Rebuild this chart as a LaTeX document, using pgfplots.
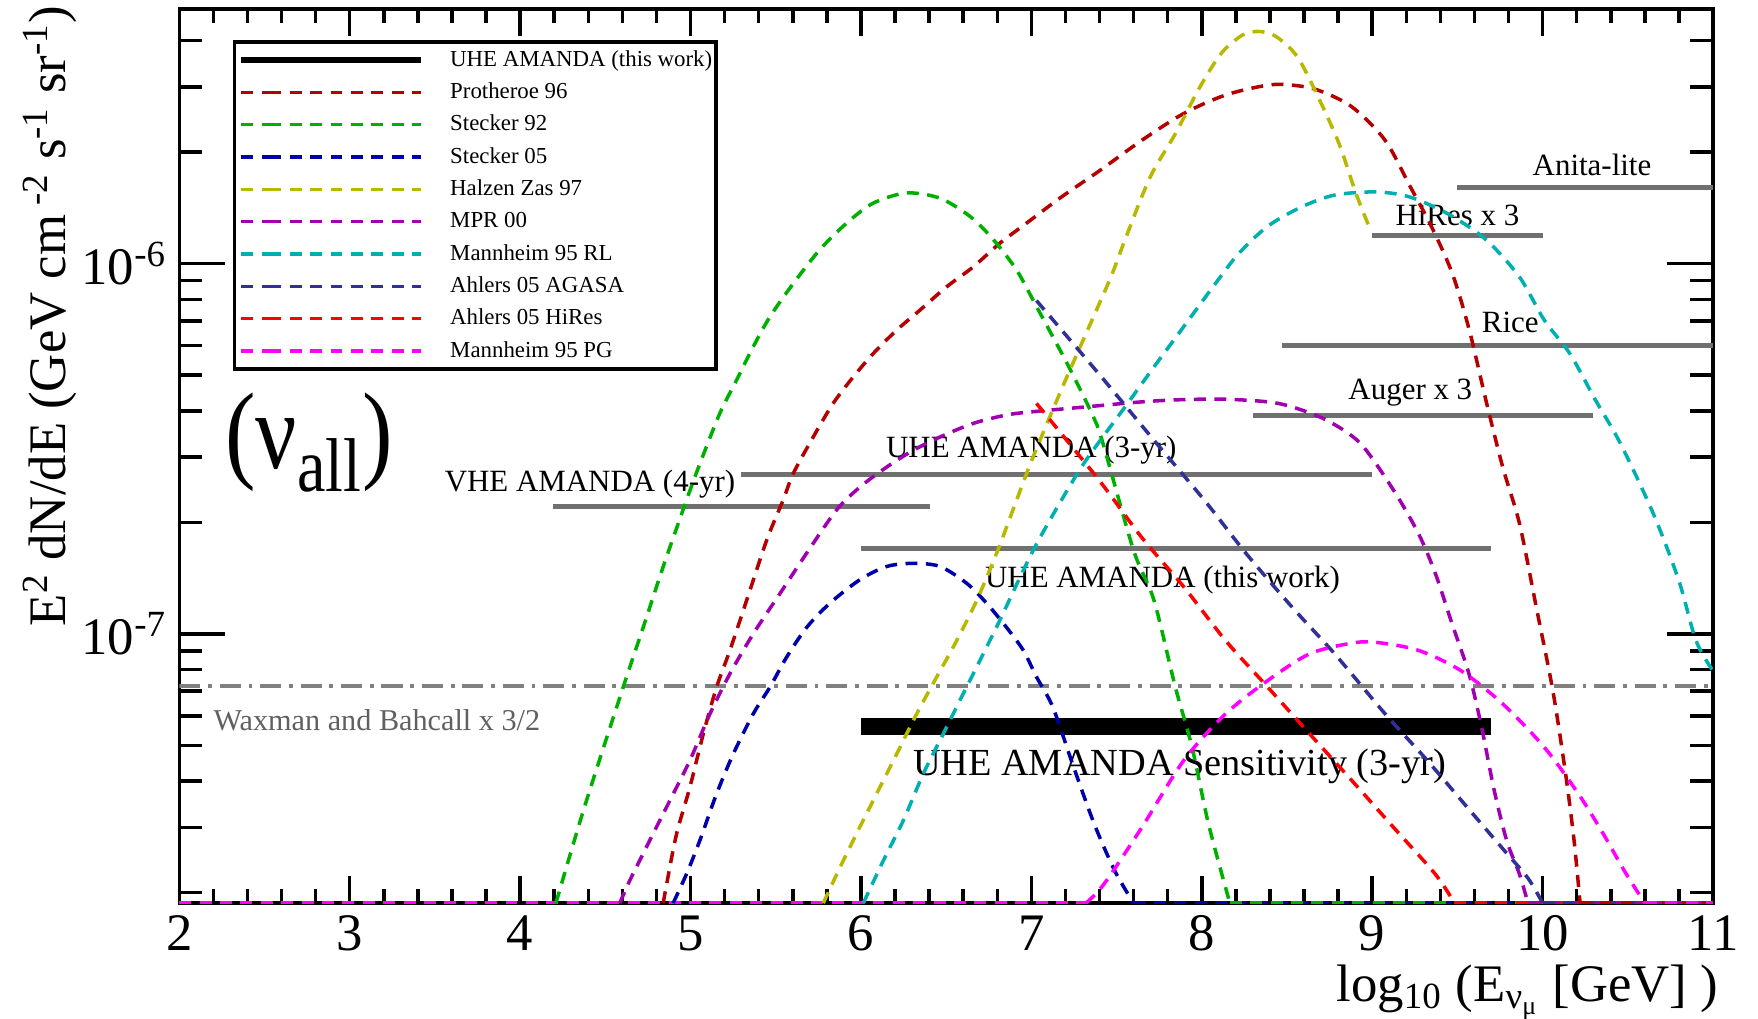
\documentclass[border=0pt]{standalone}
\usepackage{pgfplots}
\pgfplotsset{compat=1.18}
\usepackage{graphicx}
\usepackage{fontspec}
\setmainfont{Liberation Serif}
\definecolor{cProt}{RGB}{180,0,0}
\definecolor{cStA}{RGB}{0,176,0}
\definecolor{cStB}{RGB}{0,0,170}
\definecolor{cHZ}{RGB}{184,184,0}
\definecolor{cMPR}{RGB}{160,0,176}
\definecolor{cMRL}{RGB}{0,176,176}
\definecolor{cAG}{RGB}{48,48,150}
\definecolor{cAH}{RGB}{255,0,0}
\definecolor{cMPG}{RGB}{255,0,255}
\definecolor{cBar}{RGB}{112,112,112}
\definecolor{cWB}{RGB}{128,128,128}
\definecolor{cWBt}{RGB}{96,96,96}
\tikzset{cvb/.style={dash pattern=on 3.4pt off 2.4pt, line width=1pt},
  cv/.style={cvb, smooth, tension=0.5},
  gbar/.style={cBar, line width=1.45pt},
  lab/.style={font=\fontsize{8.8}{10}\selectfont, anchor=base, inner sep=0pt}}
\begin{document}
\begin{tikzpicture}
\useasboundingbox (-51pt,-32.7pt) rectangle (449.1pt,256.9pt);
% axis for the x ticks and x label
\begin{axis}[
  scale only axis, width=436.3pt, height=254.3pt,
  xmin=2, xmax=11, ymin=0, ymax=1,
  xtick={2,3,4,5,6,7,8,9,10,11},
  xticklabels={2,3,4,5,6,7,8,9,10,11},
  minor x tick num=4,
  ytick=\empty,
  tick align=inside,
  major tick length=7.7pt, minor tick length=4pt,
  tick style={black, line width=1pt},
  axis line style={line width=1pt},
  xticklabel style={font=\fontsize{15}{15}\selectfont},
  xlabel={log\textsubscript{10} (E\textsubscript{ν\textsubscript{μ}} [GeV] )},
  xlabel style={at={(axis description cs:0.879,-0.1)}, anchor=center, font=\fontsize{15}{16}\selectfont},
]
\addplot[draw=none] coordinates {(2,0.5)};
\end{axis}
% main axis
\begin{axis}[
  scale only axis, width=436.3pt, height=254.3pt,
  xmin=2, xmax=11, ymode=log, ymin=1.875e-8, ymax=4.86e-6,
  xtick=\empty,
  ytick={1e-7,1e-6},
  yticklabels={10\textsuperscript{-7},10\textsuperscript{-6}},
  minor ytick={2e-8,3e-8,4e-8,5e-8,6e-8,7e-8,8e-8,9e-8,2e-7,3e-7,4e-7,5e-7,6e-7,7e-7,8e-7,9e-7,2e-6,3e-6,4e-6},
  tick align=inside,
  major tick length=13pt, minor tick length=6.5pt,
  tick style={black, line width=1pt},
  axis line style={line width=1pt},
  yticklabel style={font=\fontsize{15}{15}\selectfont},
  ylabel={E\textsuperscript{2} dN/dE (GeV cm\textsuperscript{ -2} s\textsuperscript{-1} sr\textsuperscript{-1})},
  ylabel style={at={(axis description cs:-0.0844,0.657)}, anchor=center, font=\fontsize{15}{16}\selectfont},
  legend entries={UHE AMANDA (this work),Protheroe 96,Stecker 92,Stecker 05,Halzen Zas 97,MPR 00,Mannheim 95 RL,Ahlers 05 AGASA,Ahlers 05 HiRes,Mannheim 95 PG},
  legend image code/.code={\path (0pt,0pt) -- (8pt,0pt); \draw[#1] (8pt,0pt) -- (51pt,0pt);},
  legend style={at={(axis description cs:0.035,0.965)}, anchor=north west,
    draw=black, line width=1pt, fill=white,
    font=\fontsize{6.5}{7}\selectfont,
    nodes={inner sep=0pt, text height=5pt, text depth=1.5pt},
    row sep=2.7pt, column sep=7.6pt,
    inner xsep=1pt, inner ysep=1.8pt, cells={anchor=west}},
]
\addlegendimage{black, line width=1.7pt}
% Waxman Bahcall
\addplot[forget plot, cWB, line width=1.3pt, dash pattern=on 6pt off 2.2pt on 1.1pt off 2.2pt] coordinates {(2,7.23e-8) (11,7.23e-8)};
% experimental bars
\addplot[forget plot, gbar] coordinates {(9.5,1.60e-6) (11,1.60e-6)};
\addplot[forget plot, gbar] coordinates {(9.0,1.19e-6) (10.0,1.19e-6)};
\addplot[forget plot, gbar] coordinates {(8.473,6.01e-7) (11,6.01e-7)};
\addplot[forget plot, gbar] coordinates {(8.30,3.89e-7) (10.296,3.89e-7)};
\addplot[forget plot, gbar] coordinates {(5.297,2.70e-7) (9.0,2.70e-7)};
\addplot[forget plot, gbar] coordinates {(4.195,2.21e-7) (6.404,2.21e-7)};
\addplot[forget plot, gbar] coordinates {(6.0,1.70e-7) (9.7,1.70e-7)};
\addplot[forget plot, black, line width=5pt] coordinates {(6.0,5.62e-8) (9.7,5.62e-8)};
% labels
\node[lab] at (axis cs:10.29,1.73e-6) {Anita-lite};
\node[lab] at (axis cs:9.5,1.27e-6) {HiRes x 3};
\node[lab] at (axis cs:9.81,6.53e-7) {Rice};
\node[lab] at (axis cs:9.224,4.30e-7) {Auger x 3};
\node[lab] at (axis cs:7.0,3.0e-7) {UHE AMANDA (3-yr)};
\node[lab] at (axis cs:4.41,2.43e-7) {VHE AMANDA (4-yr)};
\node[lab] at (axis cs:7.77,1.33e-7) {UHE AMANDA (this work)};
\node[lab, font=\fontsize{10.9}{12}\selectfont] at (axis cs:7.87,4.15e-8) {UHE AMANDA Sensitivity (3-yr)};
\node[anchor=base west, inner sep=0pt, text=cWBt, font=\fontsize{8.6}{9}\selectfont] at (axis cs:2.197,5.48e-8) {Waxman and Bahcall x 3/2};
\node[anchor=base west, inner sep=0pt, font=\fontsize{31}{31}\selectfont] at (axis cs:2.265,2.79e-7) {\scalebox{0.84}[1]{(ν\textsubscript{all})}};
% flat parts of the curves along the lower edge
\addplot[forget plot, cvb, cStA] coordinates {(2,1.875e-8) (4.21,1.875e-8)};
\addplot[forget plot, cvb, cMPR] coordinates {(2,1.875e-8) (4.585,1.875e-8)};
\addplot[forget plot, cvb, cProt] coordinates {(2,1.875e-8) (4.84,1.875e-8)};
\addplot[forget plot, cvb, cStB] coordinates {(2,1.875e-8) (4.898,1.875e-8)};
\addplot[forget plot, cvb, cHZ] coordinates {(2,1.875e-8) (5.779,1.875e-8)};
\addplot[forget plot, cvb, cMRL] coordinates {(2,1.875e-8) (6.014,1.875e-8)};
\addplot[forget plot, cvb, cMPG] coordinates {(2,1.875e-8) (7.32,1.875e-8)};
\addplot[forget plot, cvb, cStB] coordinates {(7.6,1.875e-8) (11,1.875e-8)};
\addplot[forget plot, cvb, cStA] coordinates {(8.165,1.875e-8) (11,1.875e-8)};
\addplot[forget plot, cvb, cAH] coordinates {(9.483,1.875e-8) (11,1.875e-8)};
\addplot[forget plot, cvb, cMPR] coordinates {(9.914,1.875e-8) (11,1.875e-8)};
\addplot[forget plot, cvb, cAG] coordinates {(10.0,1.875e-8) (11,1.875e-8)};
\addplot[forget plot, cvb, cProt] coordinates {(10.22,1.875e-8) (11,1.875e-8)};
\addplot[forget plot, cvb, cMPG] coordinates {(10.6,1.875e-8) (11,1.875e-8)};
% Protheroe 96
\addplot[cv, cProt] coordinates {(4.84,1.875e-8) (4.86,2.11e-8) (4.918,2.88e-8) (4.996,3.85e-8) (5.075,5.37e-8) (5.153,7.18e-8) (5.231,9.02e-8) (5.329,1.23e-7) (5.447,1.79e-7) (5.544,2.30e-7) (5.603,2.71e-7) (5.72,3.40e-7) (5.837,4.19e-7) (5.955,4.94e-7) (6.072,5.71e-7) (6.21,6.61e-7) (6.346,7.48e-7) (6.503,8.65e-7) (6.659,9.79e-7) (6.816,1.135e-6) (6.972,1.285e-6) (7.175,1.51e-6) (7.40,1.78e-6) (7.648,2.15e-6) (7.894,2.54e-6) (8.14,2.85e-6) (8.387,3.03e-6) (8.53,3.03e-6) (8.68,2.94e-6) (8.88,2.65e-6) (9.076,2.15e-6) (9.224,1.61e-6) (9.347,1.26e-6) (9.47,9.40e-7) (9.57,6.61e-7) (9.667,4.28e-7) (9.766,2.82e-7) (9.865,1.98e-7) (9.963,1.18e-7) (10.06,7.03e-8) (10.135,4.19e-8) (10.185,2.76e-8) (10.22,1.875e-8)};
% Stecker 92
\addplot[cv, cStA] coordinates {(4.21,1.875e-8) (4.377,3.40e-8) (4.605,7.18e-8) (4.722,1.04e-7) (4.84,1.52e-7) (4.977,2.30e-7) (5.055,2.88e-7) (5.172,3.94e-7) (5.27,4.84e-7) (5.368,5.96e-7) (5.466,7.18e-7) (5.603,8.83e-7) (5.759,1.09e-6) (5.916,1.285e-6) (6.072,1.455e-6) (6.268,1.55e-6) (6.464,1.50e-6) (6.64,1.34e-6) (6.777,1.16e-6) (6.914,9.59e-7) (7.031,7.64e-7) (7.22,5.26e-7) (7.37,3.80e-7) (7.426,3.20e-7) (7.6,1.68e-7) (7.72,1.23e-7) (7.845,7.18e-8) (7.943,4.94e-8) (8.04,3.06e-8) (8.165,1.875e-8)};
% Stecker 05
\addplot[cv, cStB] coordinates {(4.898,1.875e-8) (4.977,2.25e-8) (5.055,2.77e-8) (5.153,3.70e-8) (5.251,4.74e-8) (5.368,6.08e-8) (5.466,7.18e-8) (5.564,8.65e-8) (5.681,1.04e-7) (5.818,1.21e-7) (5.994,1.40e-7) (6.151,1.52e-7) (6.307,1.55e-7) (6.464,1.52e-7) (6.62,1.37e-7) (6.737,1.21e-7) (6.855,1.04e-7) (6.953,9.02e-8) (7.031,7.64e-8) (7.126,6.34e-8) (7.248,4.37e-8) (7.37,3.06e-8) (7.49,2.29e-8) (7.6,1.875e-8)};
% Halzen Zas 97
\addplot[cv, cHZ] coordinates {(5.779,1.875e-8) (5.877,2.34e-8) (5.994,3.01e-8) (6.092,3.70e-8) (6.21,4.74e-8) (6.327,6.08e-8) (6.444,7.64e-8) (6.562,9.59e-8) (6.679,1.23e-7) (6.796,1.65e-7) (6.914,2.30e-7) (7.011,3.01e-7) (7.175,4.55e-7) (7.321,6.47e-7) (7.467,9.20e-7) (7.55,1.16e-6) (7.697,1.71e-6) (7.845,2.24e-6) (7.99,3.00e-6) (8.116,3.70e-6) (8.24,4.14e-6) (8.337,4.23e-6) (8.436,4.10e-6) (8.56,3.62e-6) (8.682,2.82e-6) (8.805,2.11e-6) (8.904,1.55e-6) (8.99,1.23e-6)};
% MPR 00
\addplot[cv, cMPR] coordinates {(4.585,1.875e-8) (4.644,2.16e-8) (4.761,2.77e-8) (4.879,3.55e-8) (4.996,4.55e-8) (5.114,6.08e-8) (5.231,7.80e-8) (5.368,1.00e-7) (5.525,1.285e-7) (5.681,1.65e-7) (5.857,2.16e-7) (5.994,2.49e-7) (6.151,2.82e-7) (6.307,3.13e-7) (6.464,3.40e-7) (6.659,3.70e-7) (6.855,3.90e-7) (7.011,3.98e-7) (7.32,4.10e-7) (7.648,4.23e-7) (7.894,4.29e-7) (8.14,4.30e-7) (8.387,4.23e-7) (8.53,4.10e-7) (8.73,3.78e-7) (8.93,3.27e-7) (9.126,2.44e-7) (9.273,1.86e-7) (9.372,1.45e-7) (9.47,1.06e-7) (9.568,7.80e-8) (9.642,5.60e-8) (9.716,3.78e-8) (9.79,2.76e-8) (9.865,2.24e-8) (9.914,1.875e-8)};
% Mannheim 95 RL
\addplot[cv, cMRL] coordinates {(6.014,1.875e-8) (6.131,2.44e-8) (6.248,3.13e-8) (6.366,4.19e-8) (6.483,5.37e-8) (6.6,6.89e-8) (6.698,8.47e-8) (6.816,1.09e-7) (6.933,1.42e-7) (7.031,1.75e-7) (7.175,2.29e-7) (7.32,2.94e-7) (7.55,4.10e-7) (7.72,5.26e-7) (7.894,6.75e-7) (8.066,8.65e-7) (8.214,1.06e-6) (8.387,1.26e-6) (8.584,1.42e-6) (8.78,1.53e-6) (9.027,1.56e-6) (9.224,1.51e-6) (9.446,1.36e-6) (9.667,1.16e-6) (9.864,9.20e-7) (10.01,7.03e-7) (10.16,5.71e-7) (10.31,4.28e-7) (10.456,3.27e-7) (10.65,2.11e-7) (10.8,1.39e-7) (10.9,9.59e-8) (11.0,7.94e-8)};
% Ahlers 05 AGASA
\addplot[cv, cAG] coordinates {(7.03,7.94e-7) (7.40,5.01e-7) (7.72,3.33e-7) (8.017,2.29e-7) (8.264,1.64e-7) (8.534,1.175e-7) (8.78,8.83e-8) (9.076,6.08e-8) (9.32,4.57e-8) (9.57,3.35e-8) (9.766,2.63e-8) (9.914,2.19e-8) (10.0,1.875e-8)};
% Ahlers 05 HiRes
\addplot[cv, cAH] coordinates {(7.03,4.19e-7) (7.40,2.59e-7) (7.648,1.82e-7) (7.894,1.34e-7) (8.14,9.59e-8) (8.387,7.18e-8) (8.633,5.37e-8) (8.88,4.02e-8) (9.126,3.00e-8) (9.372,2.24e-8) (9.483,1.875e-8)};
% Mannheim 95 PG
\addplot[cv, cMPG] coordinates {(7.32,1.875e-8) (7.426,2.11e-8) (7.648,3.00e-8) (7.894,4.55e-8) (8.14,6.08e-8) (8.387,7.48e-8) (8.633,8.83e-8) (8.88,9.44e-8) (9.027,9.48e-8) (9.273,9.02e-8) (9.52,7.96e-8) (9.766,6.47e-8) (10.01,4.94e-8) (10.21,3.70e-8) (10.357,2.88e-8) (10.48,2.29e-8) (10.6,1.875e-8)};
\end{axis}
\end{tikzpicture}
\end{document}
